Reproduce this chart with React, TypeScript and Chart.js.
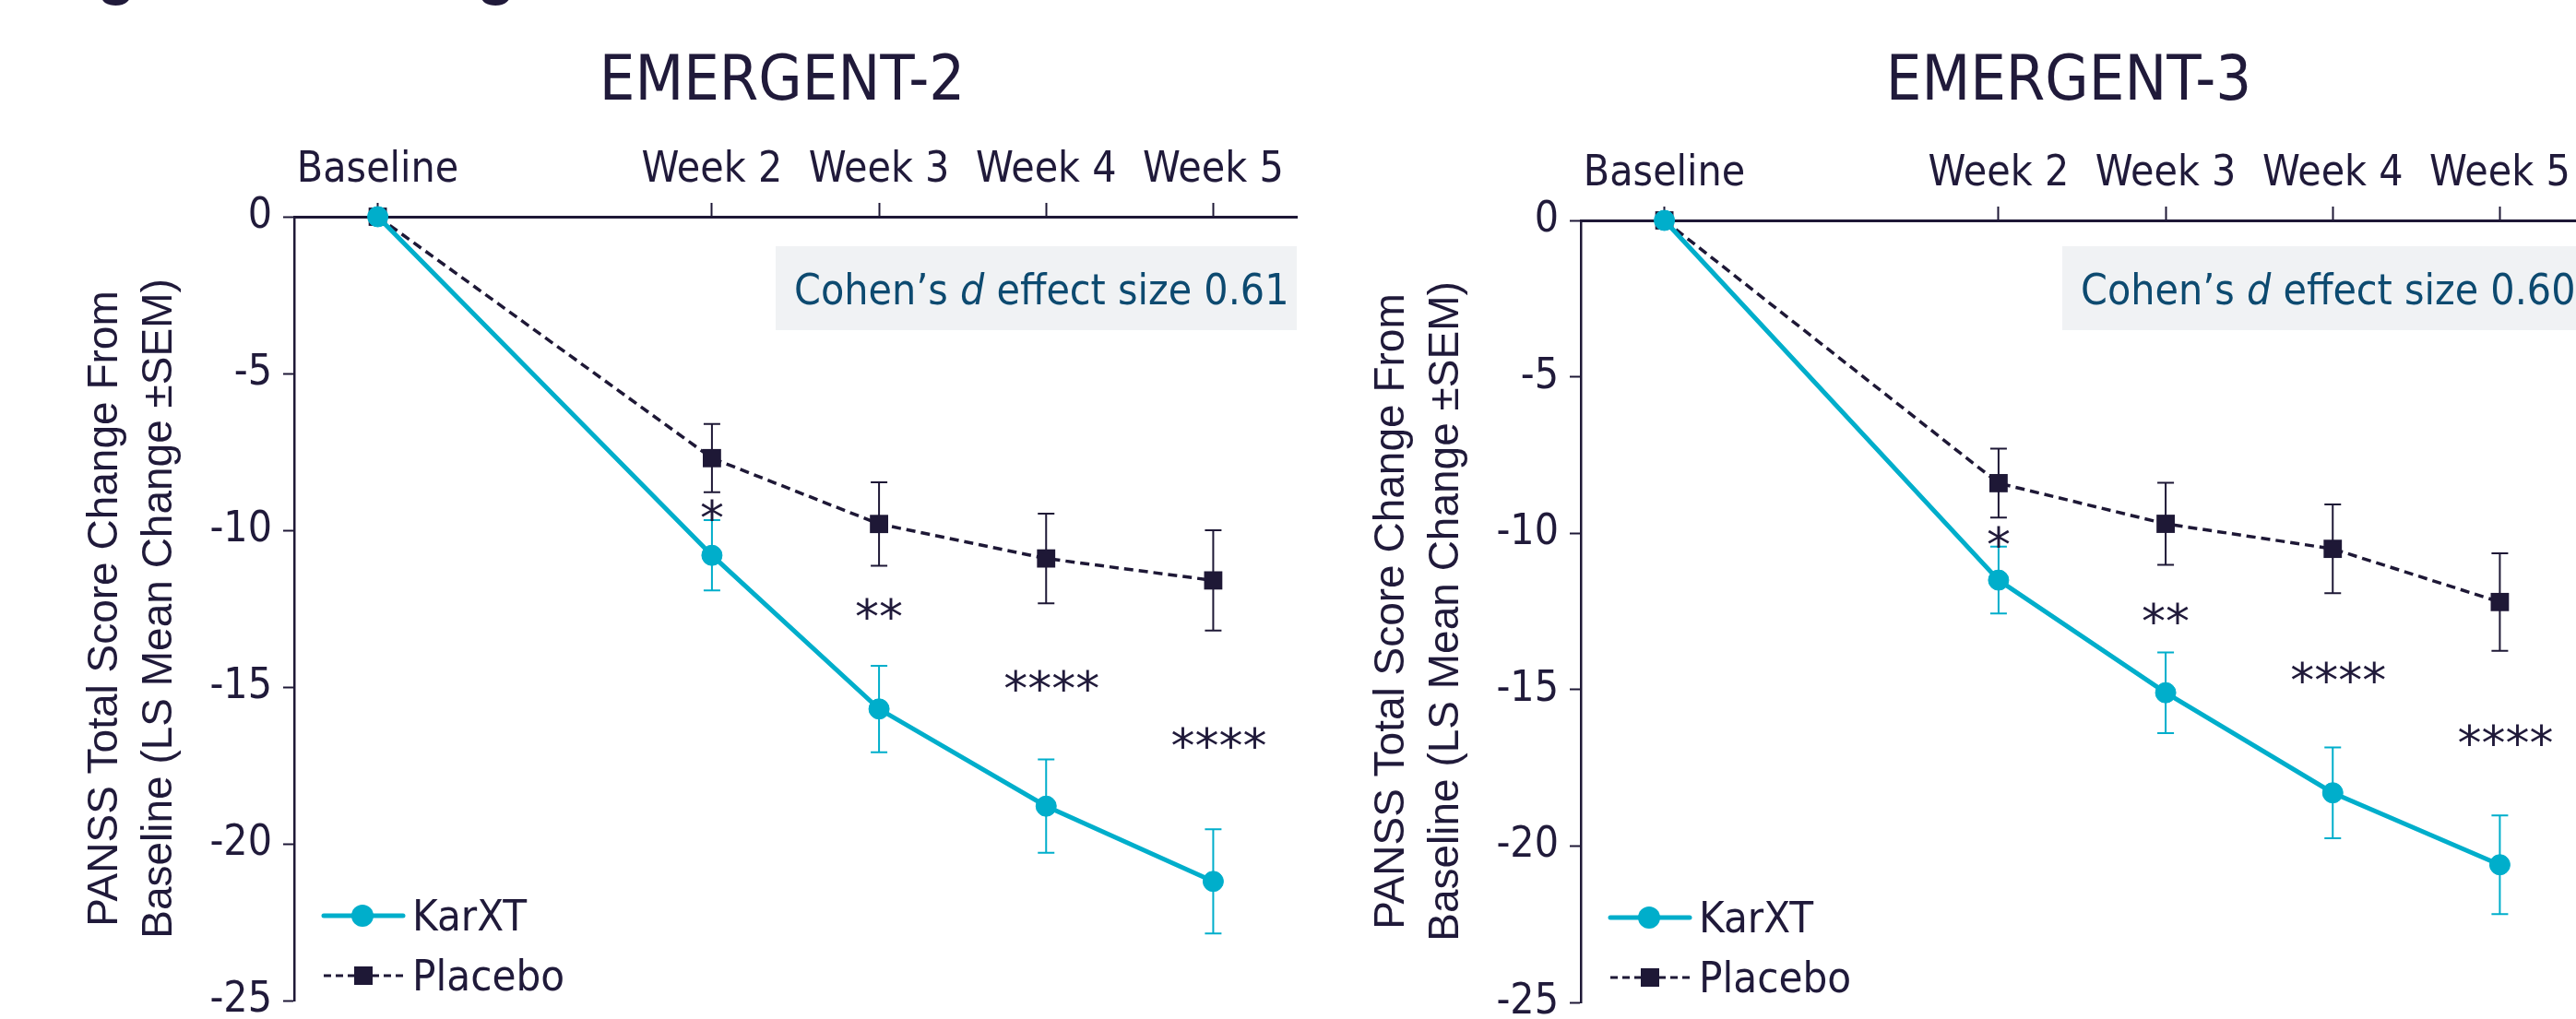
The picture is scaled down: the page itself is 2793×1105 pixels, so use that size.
import React, { useEffect, useRef } from "react";
import { Chart, registerables } from "chart.js";

Chart.register(...registerables);

// ---------- data ----------
const weekValues = [0, 2, 3, 4, 5];
const weekLabels = ["Baseline", "Week 2", "Week 3", "Week 4", "Week 5"];
const yTickValues = [0, -5, -10, -15, -20, -25];
const yTickLabels = ["0", "-5", "-10", "-15", "-20", "-25"];
const seriesNames = ["KarXT", "Placebo"];
const starLabels = ["", "*", "**", "****", "****"];
const yTitleLines = ["PANSS Total Score Change From", "Baseline (LS Mean Change \u00B1SEM)"];
const headingText = "Figure 2. Change From Baseline to Week 5 in PANSS Total Score";

const e2Title = "EMERGENT-2";
const e2KarXT = [0, -10.8, -15.7, -18.8, -21.2];
const e2KarXTSem = [0, 1.12, 1.38, 1.49, 1.66];
const e2Placebo = [0, -7.7, -9.8, -10.9, -11.6];
const e2PlaceboSem = [0, 1.09, 1.33, 1.43, 1.6];
const e2StarY = [0, -9.25, -12.4, -14.7, -16.5];
const e2Effect = "0.61";

const e3Title = "EMERGENT-3";
const e3KarXT = [0, -11.5, -15.1, -18.3, -20.6];
const e3KarXTSem = [0, 1.07, 1.29, 1.45, 1.58];
const e3Placebo = [0, -8.4, -9.7, -10.5, -12.2];
const e3PlaceboSem = [0, 1.1, 1.31, 1.42, 1.56];
const e3StarY = [0, -10.0, -12.45, -14.35, -16.35];
const e3Effect = "0.60";

// ---------- styles ----------
const CYAN = "#00AECB";
const DARK = "#1e1836";
const TEXT = "#201a3a";
const BLUE_TEXT = "#0d4a70";
const BOX_BG = "#f0f2f4";
const COND = "'DejaVu Sans Condensed', 'DejaVu Sans', sans-serif";
const CW = 1420;
const CH = 1105;
const AXIS_W = 319;
const PLOT_W = 1092;

function TrialChart(props: any) {
  const ref = useRef<HTMLCanvasElement>(null);
  useEffect(() => {
    const canvas = ref.current as HTMLCanvasElement;
    const { title, karxt, karxtSem, placebo, placeboSem, starY, effect, areaTop, areaBottom } = props;

    const annot = {
      id: "annot",
      beforeDatasetsDraw(chart: any) {
        const ctx = chart.ctx;
        const xs = chart.scales.x;
        const ys = chart.scales.y;
        chart.data.datasets.forEach((ds: any) => {
          ctx.save();
          ctx.strokeStyle = ds.borderColor;
          ctx.lineWidth = 2;
          ds.data.forEach((p: any, i: number) => {
            const e = ds.errors[i];
            if (!e) return;
            const x = xs.getPixelForValue(p.x);
            const y1 = ys.getPixelForValue(p.y + e);
            const y2 = ys.getPixelForValue(p.y - e);
            ctx.beginPath();
            ctx.moveTo(x, y1);
            ctx.lineTo(x, y2);
            ctx.moveTo(x - 9, y1);
            ctx.lineTo(x + 9, y1);
            ctx.moveTo(x - 9, y2);
            ctx.lineTo(x + 9, y2);
            ctx.stroke();
          });
          ctx.restore();
        });
      },
      afterDraw(chart: any) {
        const ctx = chart.ctx;
        const xs = chart.scales.x;
        const ys = chart.scales.y;
        const area = chart.chartArea;
        ctx.save();
        // significance stars
        ctx.fillStyle = TEXT;
        ctx.font = "52px 'DejaVu Sans', sans-serif";
        ctx.textAlign = "center";
        ctx.textBaseline = "alphabetic";
        starLabels.forEach((s, i) => {
          if (!s) return;
          const x = xs.getPixelForValue(weekValues[i]);
          const y = ys.getPixelForValue(starY[i]);
          ctx.fillText(s, x + (i >= 3 ? 6 : 0), y + 0.59 * 52);
        });
        // title
        ctx.font = "68px " + COND;
        ctx.fillStyle = TEXT;
        ctx.textAlign = "center";
        ctx.fillText(title, area.left + 529, 108);
        // effect size box
        const bw = 565;
        const bx = area.right - bw;
        ctx.fillStyle = BOX_BG;
        ctx.fillRect(bx, 267, bw, 91);
        ctx.fillStyle = BLUE_TEXT;
        ctx.textAlign = "left";
        let tx = bx + 20;
        const ty = 330;
        ctx.font = "46px " + COND;
        const p1 = "Cohen\u2019s ";
        ctx.fillText(p1, tx, ty);
        tx += ctx.measureText(p1).width;
        ctx.font = "italic 46px " + COND;
        ctx.fillText("d", tx, ty);
        tx += ctx.measureText("d").width;
        ctx.font = "46px " + COND;
        ctx.fillText(" effect size " + effect, tx, ty);
        // legend
        const lx = area.left + 32;
        const ly1 = area.bottom - 92;
        const ly2 = area.bottom - 27;
        ctx.strokeStyle = CYAN;
        ctx.lineWidth = 5;
        ctx.lineCap = "round";
        ctx.beginPath();
        ctx.moveTo(lx, ly1);
        ctx.lineTo(lx + 86, ly1);
        ctx.stroke();
        ctx.fillStyle = CYAN;
        ctx.beginPath();
        ctx.arc(lx + 42, ly1, 12, 0, Math.PI * 2);
        ctx.fill();
        ctx.lineCap = "butt";
        ctx.strokeStyle = DARK;
        ctx.lineWidth = 3;
        ctx.setLineDash([8, 5]);
        ctx.beginPath();
        ctx.moveTo(lx, ly2);
        ctx.lineTo(lx + 86, ly2);
        ctx.stroke();
        ctx.setLineDash([]);
        ctx.fillStyle = DARK;
        ctx.fillRect(lx + 33, ly2 - 10, 20, 20);
        ctx.fillStyle = TEXT;
        ctx.font = "47px " + COND;
        ctx.textAlign = "left";
        ctx.fillText(seriesNames[0], area.left + 128, ly1 + 16);
        ctx.fillText(seriesNames[1], area.left + 128, ly2 + 16);
        ctx.restore();
      },
    };

    const tickFont = { family: COND, size: 46 };
    const chart = new Chart(canvas, {
      type: "line",
      data: {
        datasets: [
          {
            label: seriesNames[0],
            data: weekValues.map((w, i) => ({ x: w, y: karxt[i] })),
            errors: karxtSem,
            borderColor: CYAN,
            backgroundColor: CYAN,
            borderWidth: 5,
            pointStyle: "circle",
            pointRadius: 11,
            pointBackgroundColor: CYAN,
            pointBorderColor: CYAN,
            pointBorderWidth: 1,
            tension: 0,
            clip: false,
          } as any,
          {
            label: seriesNames[1],
            data: weekValues.map((w, i) => ({ x: w, y: placebo[i] })),
            errors: placeboSem,
            borderColor: DARK,
            backgroundColor: DARK,
            borderWidth: 3.5,
            borderDash: [10, 6],
            pointStyle: "rect",
            pointRadius: 14,
            pointBackgroundColor: DARK,
            pointBorderColor: DARK,
            pointBorderWidth: 0,
            tension: 0,
            clip: false,
          } as any,
        ],
      },
      options: {
        responsive: false,
        animation: false,
        events: [],
        layout: { padding: { left: 0, top: 0, right: CW - AXIS_W - PLOT_W, bottom: CH - areaBottom } },
        plugins: { legend: { display: false }, tooltip: { enabled: false }, title: { display: false } },
        scales: {
          x: {
            type: "linear",
            position: "top",
            min: -0.5,
            max: 5.5,
            afterBuildTicks: (s: any) => {
              s.ticks = weekValues.map((v) => ({ value: v }));
            },
            afterFit: (s: any) => {
              s.height = areaTop;
              s.paddingLeft = 0;
              s.paddingRight = 0;
            },
            ticks: {
              callback: (v: any) => weekLabels[weekValues.indexOf(Number(v))],
              font: tickFont,
              color: TEXT,
              padding: 7,
              autoSkip: false,
              maxRotation: 0,
            },
            grid: { drawOnChartArea: false, drawTicks: true, tickLength: 15, tickWidth: 2, tickColor: DARK },
            border: { display: true, color: DARK, width: 3 },
          },
          y: {
            type: "linear",
            min: -25,
            max: 0,
            afterBuildTicks: (s: any) => {
              s.ticks = yTickValues.map((v) => ({ value: v }));
            },
            afterFit: (s: any) => {
              s.width = AXIS_W;
              s.paddingTop = 0;
              s.paddingBottom = 0;
            },
            ticks: {
              callback: (v: any) => yTickLabels[yTickValues.indexOf(Number(v))],
              font: tickFont,
              color: TEXT,
              padding: 12,
            },
            grid: { drawOnChartArea: false, drawTicks: true, tickLength: 12, tickWidth: 2, tickColor: DARK },
            border: { display: true, color: DARK, width: 2.5 },
            title: {
              display: true,
              text: yTitleLines,
              color: TEXT,
              font: { family: "'Liberation Sans', Arial, sans-serif", size: 46, lineHeight: 59 / 46 },
              padding: { top: 85, bottom: 0 },
            },
          },
        },
      } as any,
      plugins: [annot],
    });
    return () => chart.destroy();
  }, []);
  return (
    <canvas
      ref={ref}
      width={CW}
      height={CH}
      style={{ position: "absolute", left: props.left, top: 0, width: CW, height: CH }}
    />
  );
}

export default function App() {
  return (
    <div
      style={{
        position: "fixed",
        left: 0,
        top: 0,
        width: 2793,
        height: 1105,
        overflow: "hidden",
        background: "#ffffff",
      }}
    >
      <div
        style={{
          position: "absolute",
          left: 45,
          top: -66,
          fontFamily: "'Liberation Sans', Arial, sans-serif",
          fontWeight: 700,
          fontSize: 68,
          lineHeight: "68px",
          whiteSpace: "nowrap",
          color: TEXT,
        }}
      >
        {headingText}
      </div>
      <TrialChart
        left={0}
        title={e2Title}
        karxt={e2KarXT}
        karxtSem={e2KarXTSem}
        placebo={e2Placebo}
        placeboSem={e2PlaceboSem}
        starY={e2StarY}
        effect={e2Effect}
        areaTop={235}
        areaBottom={1085}
      />
      <TrialChart
        left={1395}
        title={e3Title}
        karxt={e3KarXT}
        karxtSem={e3KarXTSem}
        placebo={e3Placebo}
        placeboSem={e3PlaceboSem}
        starY={e3StarY}
        effect={e3Effect}
        areaTop={239}
        areaBottom={1087}
      />
    </div>
  );
}
